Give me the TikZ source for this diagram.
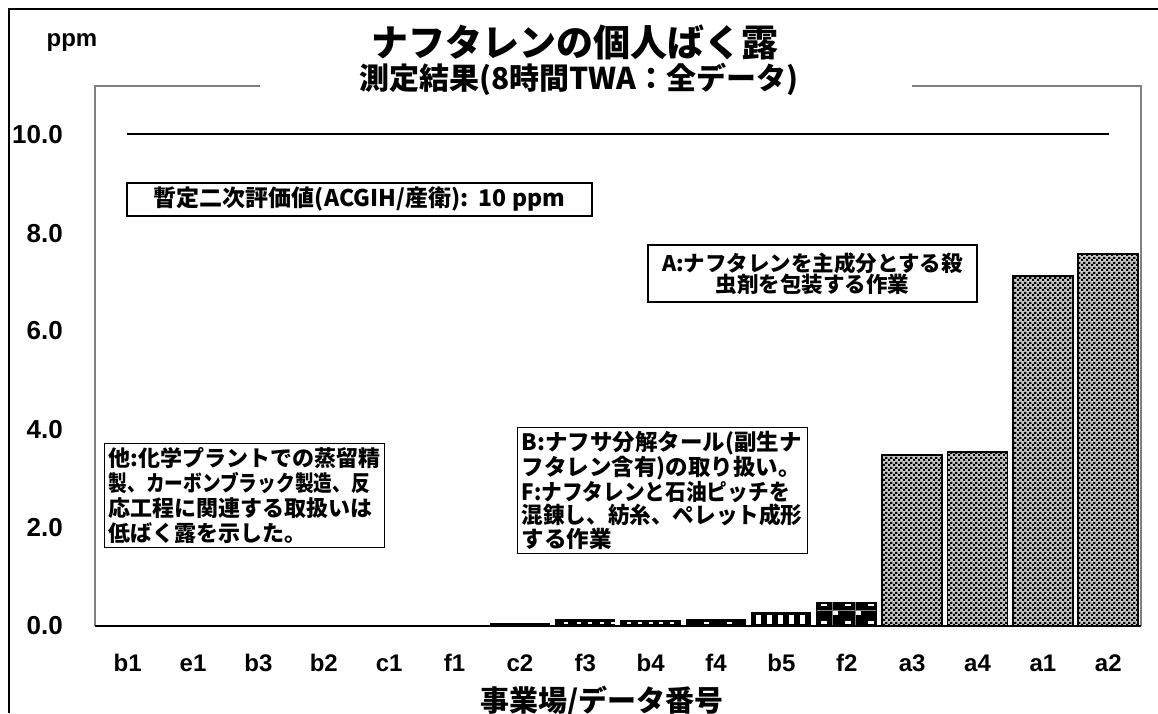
\documentclass[tikz,border=0pt]{standalone}
\usepackage{graphicx}
\usepackage{fontspec}
\setmainfont{Liberation Sans}
\newfontfamily\cjk{Noto Sans CJK JP}
\usetikzlibrary{patterns}
\pgfdeclarepatternformonly{chk}{\pgfpointorigin}{\pgfpoint{4.6pt}{4.6pt}}{\pgfpoint{4.6pt}{4.6pt}}{%
  \pgfpathrectangle{\pgfpointorigin}{\pgfpoint{2.3pt}{2.3pt}}%
  \pgfpathrectangle{\pgfpoint{2.3pt}{2.3pt}}{\pgfpoint{2.3pt}{2.3pt}}%
  \pgfusepath{fill}}
\newcommand\sqz[2]{\scalebox{#1}[1]{#2}}
\begin{document}
\begin{tikzpicture}[x=1pt,y=-1pt,
  ticklbl/.style={font=\fontsize{26}{28}\selectfont\bfseries, inner sep=0pt, anchor=east},
  catlbl/.style={font=\fontsize{24}{26}\selectfont\bfseries, inner sep=0pt},
  notebox/.style={draw=black, line width=1.2pt, fill=white, font=\cjk\bfseries\fontsize{22}{24.5}\selectfont, inner sep=4pt, align=left},
  plotframe/.style={draw=gray, line width=1.5pt},
  barbox/.style={draw=black, line width=1.5pt}]
\useasboundingbox (0,0) rectangle (1158,713);
\fill[white] (0,0) rectangle (1158,713);
% outer frame
\draw[line width=1.3pt] (9,713) -- (9,9) -- (1158,9);
% plot frame
\draw[plotframe] (260,86) -- (95,86) -- (95,626);
\draw[plotframe] (912,86) -- (1141,86) -- (1141,626);
% titles
\node[font=\cjk\bfseries\fontsize{37}{40}\selectfont, inner sep=0pt] (title) at (575,42) {ナフタレンの個人ばく露};
\node[font=\cjk\bfseries\fontsize{30}{32}\selectfont, inner sep=0pt] (subtitle) at (579,79) {測定結果(8時間TWA：全データ)};
\node[font=\fontsize{24}{26}\selectfont\bfseries, inner sep=0pt] (unit) at (72,43) {ppm};
% y tick labels
\node[ticklbl] (y10) at (63,135) {10.0};
\node[ticklbl] (y8) at (63,234) {8.0};
\node[ticklbl] (y6) at (63,331) {6.0};
\node[ticklbl] (y4) at (63,430) {4.0};
\node[ticklbl] (y2) at (63,528) {2.0};
\node[ticklbl] (y0) at (63,626) {0.0};
% reference line
\coordinate (refL) at (127,134);
\coordinate (refR) at (1109,134);
\draw[line width=1.5pt] (refL) -- (refR);
% bars
\foreach \i/\t in {0/625,1/625,2/625,3/625,4/624.5,5/624.5,6/623}{
  \pgfmathsetmacro\xl{97.5+65.375*\i}
  \fill[black] (\xl,\t) rectangle (\xl+60,627);
}
\foreach \i/\t in {12/455,13/452,14/276,15/254}{
  \pgfmathsetmacro\xl{97.5+65.375*\i}
  \fill[gray!45] (\xl,\t) rectangle (\xl+60,626);
  \fill[pattern=chk] (\xl,\t) rectangle (\xl+60,626);
  \draw[barbox] (\xl,\t) rectangle (\xl+60,626);
}
% f3, b4, f4
\fill[black] (555,619) rectangle (615,627);
\fill[black] (620,619.5) rectangle (681,627);
\fill[black] (686,619) rectangle (746,627);
\foreach \x in {564,577,588,600,611}{\fill[white] (\x,621.5) rectangle (\x+3.5,623.5);}
\foreach \x in {627,638,649,659,670}{\fill[white] (\x,621.5) rectangle (\x+4,624);}
\foreach \x in {704,727}{\fill[white] (\x,621.5) rectangle (\x+5,624);}
% b5
\fill[black] (751,612) rectangle (811,627);
\foreach \x in {756,767,778,789,800}{\fill[white] (\x,614.5) rectangle (\x+5,623.5);}
% f2
\fill[black] (816,602) rectangle (877,627);
\draw[gray, line width=0.6pt] (817,610) -- (876,610);
\draw[gray, line width=0.6pt] (832,602) -- (832,626) (855,602) -- (855,626);
\foreach \x in {821,845,868}{\fill[white] (\x,604) rectangle (\x+6,605.5);}
\foreach \x in {832.5,855.5}{\fill[white] (\x,611) rectangle (\x+5,615);}
\foreach \x in {821,845,868}{\fill[white] (\x,621) rectangle (\x+6,624);}
% x axis
\draw[line width=2pt] (95,626) -- (1141,626);
% category labels
\foreach \i/\n in {0/b1,1/e1,2/b3,3/b2,4/c1,5/f1,6/c2,7/f3,8/b4,9/f4,10/b5,11/f2,12/a3,13/a4,14/a1,15/a2}{
  \node[catlbl] (cat\n) at (127.7+65.375*\i,663) {\n};
}
\node[font=\cjk\bfseries\fontsize{29}{31}\selectfont, inner sep=0pt, anchor=north] (xtitle) at (602,686) {事業場/データ番号};
% notes
\node[draw=black, line width=1.2pt, fill=white, minimum width=465pt, minimum height=33pt, font=\cjk\bfseries\fontsize{23}{25}\selectfont, inner sep=0pt] (limit) at (359.5,199.5) {暫定二次評価値(ACGIH/産衛):\ \ 10 ppm};
\node[notebox, align=center, font=\cjk\bfseries\fontsize{21.5}{21.5}\selectfont, minimum width=329pt, minimum height=57pt] (noteA) at (812.5,273.5) {A:ナフタレンを主成分とする殺\\虫剤を包装する作業};
\node[notebox, anchor=north west, text width=282pt, font=\cjk\bfseries\fontsize{22.5}{23.3}\selectfont] (noteBF) at (517,427) {B:ナフサ分解タール(副生ナ\\フタレン含有)の取り扱い。\\\sqz{0.92}{F:ナフタレンと石油ピッチを}\\\sqz{0.96}{混錬し、紡糸、ペレット成形}\\する作業};
\node[notebox, anchor=north west, text width=272pt, font=\cjk\bfseries\fontsize{22}{25}\selectfont] (noteO) at (104,443) {他:化学プラントでの蒸留精\\\sqz{0.85}{製、カーボンブラック製造、反}\\応工程に関連する取扱いは\\低ばく露を示した。};
\end{tikzpicture}
\end{document}
